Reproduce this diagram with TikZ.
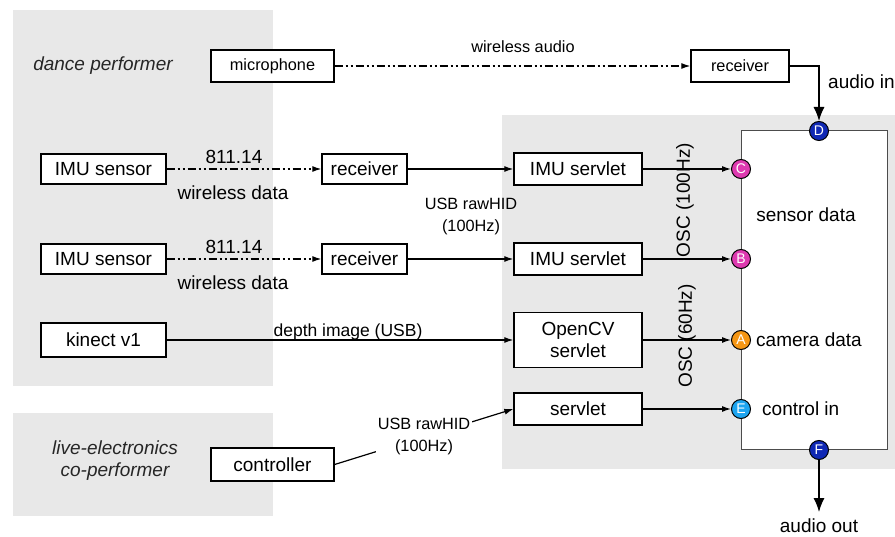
\documentclass[tikz,border=0pt]{standalone}
\usepackage{fontspec}
\setmainfont{Liberation Sans}
\usetikzlibrary{arrows.meta}
\definecolor{panelgray}{RGB}{232,232,232}
\definecolor{portmag}{RGB}{222,58,176}
\definecolor{portorange}{RGB}{245,150,20}
\definecolor{portdark}{RGB}{16,40,180}
\definecolor{portlight}{RGB}{30,165,240}
\newcommand\lgf{\fontsize{19}{22}\selectfont}
\newcommand\smf{\fontsize{16.3}{22}\selectfont}
\newcommand\mdf{\fontsize{17.5}{22}\selectfont}
\newcommand\ptf{\fontsize{14}{14}\selectfont}
\begin{document}
\begin{tikzpicture}[x=1pt,y=-1pt,
  box/.style={draw=black,line width=1.3pt,fill=white,inner sep=0pt,align=center,font=\lgf},
  lbl/.style={inner sep=0pt,align=center,font=\lgf},
  conn/.style={line width=1.2pt,-{Latex[length=9pt,width=6pt]}},
  wless/.style={conn,dash pattern=on 8pt off 3pt on 2pt off 3pt on 2pt off 3pt},
  port/.style={circle,draw=black,line width=1pt,minimum size=19pt,inner sep=0pt,text=white,font=\ptf},
  bigarrow/.style={line width=1.3pt,-{Latex[length=14pt,width=11pt]}}]
\useasboundingbox (0,0) rectangle (895,537);
% panels
\fill[panelgray] (13,10) rectangle (273,386);
\fill[panelgray] (13,413) rectangle (273,516);
\fill[panelgray] (502,115) rectangle (895,469);
% system box
\node[draw=black!70,line width=1pt,fill=white,minimum width=146pt,minimum height=319pt,inner sep=0pt] (sys) at (814,290.5) {};
% group labels
\node[lbl,font=\lgf\itshape,text=black!85] (dance) at (103,66) {dance performer};
\node[lbl,font=\lgf\itshape,text=black!85] (live) at (115,461) {live-electronics\\co-performer};
% boxes
\node[box,font=\smf,minimum width=123pt,minimum height=32pt] (mic) at (272.5,66) {microphone};
\node[box,font=\smf,minimum width=98pt,minimum height=32pt] (rec0) at (740,66) {receiver};
\node[box,minimum width=125pt,minimum height=30pt] (imu1) at (103.5,169) {IMU sensor};
\node[box,minimum width=85pt,minimum height=30pt] (rx1) at (364.5,169) {receiver};
\node[box,minimum width=128pt,minimum height=32pt] (srv1) at (578,169) {IMU servlet};
\node[box,minimum width=125pt,minimum height=30pt] (imu2) at (103.5,259) {IMU sensor};
\node[box,minimum width=85pt,minimum height=30pt] (rx2) at (364.5,259) {receiver};
\node[box,minimum width=128pt,minimum height=32pt] (srv2) at (578,259) {IMU servlet};
\node[box,minimum width=125pt,minimum height=34pt] (kin) at (103.5,340) {kinect v1};
\node[box,minimum width=128pt,minimum height=55pt] (ocv) at (578,340) {OpenCV\\servlet};
\node[box,minimum width=123pt,minimum height=33pt] (ctl) at (272.5,464.5) {controller};
\node[box,minimum width=128pt,minimum height=32pt] (srv3) at (578,409) {servlet};
% ports
\node[port,fill=portmag] (C) at (741,169) {C};
\node[port,fill=portmag] (B) at (741,259) {B};
\node[port,fill=portorange] (A) at (741,340) {A};
\node[port,fill=portlight] (E) at (741,409) {E};
\node[port,fill=portdark] (D) at (819,131) {D};
\node[port,fill=portdark] (F) at (819,450) {F};
% system labels
\node[lbl] (sens) at (806,215) {sensor data};
\node[lbl,anchor=west] (cam) at (756,340) {camera data};
\node[lbl,anchor=west] (ctin) at (762,409) {control in};
\node[lbl,anchor=west] (ain) at (828,82) {audio in};
\node[anchor=base,font=\lgf,inner sep=6pt] (aout) at (819,532) {audio out};
% connector labels
\node[lbl,font=\smf] (wa) at (523,47) {wireless audio};
\node[lbl] (f1) at (234,157) {811.14};
\node[lbl] (wd1) at (233,193) {wireless data};
\node[lbl] (f2) at (234,247) {811.14};
\node[lbl] (wd2) at (233,283) {wireless data};
\node[lbl,font=\smf] (usb1) at (471,216) {USB rawHID\\(100Hz)};
\node[lbl,font=\mdf] (depth) at (348,332) {depth image (USB)};
\node[lbl,rotate=90] (osc1) at (685,200) {OSC (100Hz)};
\node[lbl,rotate=90] (osc2) at (687,336) {OSC (60Hz)};
% connectors
\draw[wless] (mic) -- (rec0);
\draw[wless] (imu1) -- (rx1);
\draw[wless] (imu2) -- (rx2);
\draw[conn] (rx1) -- (srv1);
\draw[conn] (rx2) -- (srv2);
\draw[conn] (srv1) -- (C);
\draw[conn] (srv2) -- (B);
\draw[conn] (kin) -- (ocv);
\draw[conn] (ocv) -- (A);
\draw[conn] (srv3) -- (E);
\draw[conn] (ctl.east) -- node[fill=white,inner xsep=2pt,inner ysep=1pt,align=center,font=\smf] (usb2) {USB rawHID\\(100Hz)} (srv3.west);
\draw[bigarrow] (rec0.east) -| (D.north);
\draw[bigarrow] (F.south) -- (aout.north);
\end{tikzpicture}
\end{document}
